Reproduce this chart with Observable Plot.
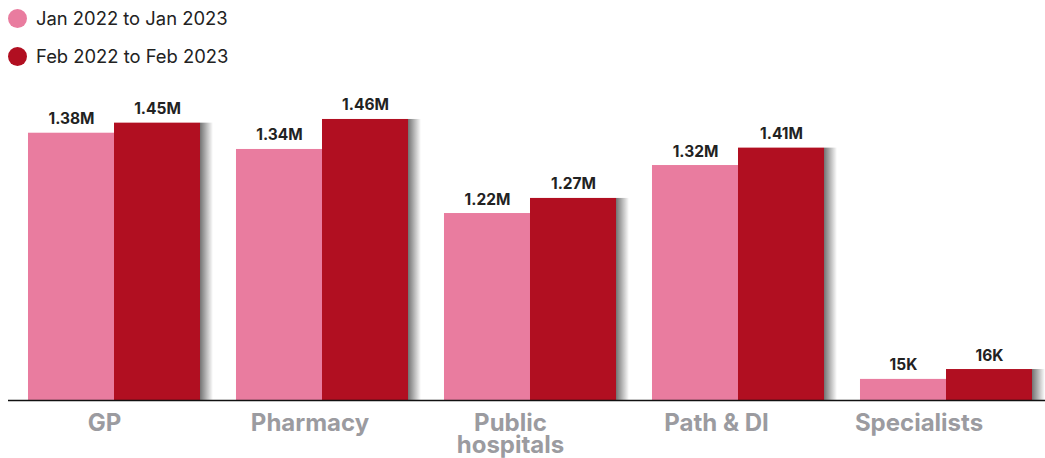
<!DOCTYPE html>
<html>
<head>
<meta charset="utf-8">
<script src="https://cdn.jsdelivr.net/npm/d3@7"></script>
<script src="https://cdn.jsdelivr.net/npm/@observablehq/plot@0.6"></script>
<style>
  html, body { margin: 0; padding: 0; background: #fff; overflow: hidden; }
  body { width: 1045px; height: 458px; font-family: "Inter", "Inter Variable", Roboto, sans-serif; }
  #legend { position: relative; height: 80px; }
  .item { position: absolute; left: 8px; display: flex; align-items: center; font-size: 18.4px; color: #222; }
  .dot { width: 19px; height: 19px; border-radius: 50%; margin-right: 9px; }
  #chart svg { display: block; }
</style>
</head>
<body>
<div id="legend"></div>
<div id="chart"></div>
<script>
// Categories and series
const categories = ["GP", "Pharmacy", "Public hospitals", "Path & DI", "Specialists"];
const categoryLines = ["GP", "Pharmacy", "Public\nhospitals", "Path & DI", "Specialists"];
const seriesNames = ["Jan 2022 to Jan 2023", "Feb 2022 to Feb 2023"];
const seriesColors = ["#E97C9F", "#B10F21"];
// Value labels as printed
const janLabels = ["1.38M", "1.34M", "1.22M", "1.32M", "15K"];
const febLabels = ["1.45M", "1.46M", "1.27M", "1.41M", "16K"];
// Bar lengths as drawn in the picture (the original does not draw to a common scale)
const janBar = [1.381, 1.297, 0.966, 1.214, 0.109];
const febBar = [1.433, 1.452, 1.044, 1.304, 0.160];

const jan = categories.map((c, i) => ({cat: c, v: janBar[i], label: janLabels[i]}));
const feb = categories.map((c, i) => ({cat: c, v: febBar[i], label: febLabels[i]}));
const cats = categories.map((c, i) => ({cat: c, text: categoryLines[i]}));

// legend
const legend = document.getElementById("legend");
seriesNames.forEach((name, i) => {
  const item = document.createElement("div");
  item.className = "item";
  item.style.top = (i === 0 ? 7 : 45) + "px";
  const dot = document.createElement("span");
  dot.className = "dot";
  dot.style.background = seriesColors[i];
  const t = document.createElement("span");
  t.textContent = name;
  item.appendChild(dot); item.appendChild(t);
  legend.appendChild(item);
});

const W = 1045, ML = 8, MR = 0;
const pIn = 0.173, pOut = 0.0793;
const step = (W - ML - MR) / (categories.length - pIn + 2 * pOut);
const bw = step * (1 - pIn);
const half = bw / 2;
const shadowW = 13;
// horizontal nudges of the category labels (style, in px)
const labelShift = [-10, -12.5, -20, -22, -27.5];
const FONT = "'Inter', 'Inter Variable', Roboto, sans-serif";

const chart = Plot.plot({
  width: W,
  height: 378,
  marginLeft: ML,
  marginRight: MR,
  marginTop: 20,
  marginBottom: 58,
  style: {fontFamily: FONT, background: "transparent"},
  x: {type: "band", domain: categories, paddingInner: pIn, paddingOuter: pOut, align: 0.606, round: false, axis: null},
  y: {domain: [0, 1.55], axis: null},
  marks: [
    Plot.barY(feb, {x: "cat", y: "v", insetLeft: bw - shadowW, dx: shadowW, fill: "url(#shadowGrad)", ariaLabel: "shadow"}),
    Plot.barY(jan, {x: "cat", y: "v", insetRight: half, fill: seriesColors[0]}),
    Plot.barY(feb, {x: "cat", y: "v", insetLeft: half, fill: seriesColors[1]}),
    Plot.text(jan, {x: "cat", y: "v", text: "label", dx: -half / 2, dy: -9, lineAnchor: "bottom", fontSize: 15.5, fontWeight: 700, fill: "#222"}),
    Plot.text(feb, {x: "cat", y: "v", text: "label", dx: half / 2, dy: -9, lineAnchor: "bottom", fontSize: 15.5, fontWeight: 700, fill: "#222"}),
    Plot.ruleY([0], {stroke: "#111", strokeWidth: 1.3}),
    ...cats.map((c, i) => Plot.text([c], {x: "cat", frameAnchor: "bottom", text: "text", lineAnchor: "top", dx: labelShift[i], dy: 14, lineHeight: 0.95, fontSize: 24, fontWeight: 700, fill: "#9B9BA0"}))
  ]
});

chart.insertAdjacentHTML("afterbegin",
  '<defs><linearGradient id="shadowGrad" x1="0" y1="0" x2="1" y2="0">' +
  '<stop offset="0" stop-color="#000" stop-opacity="0.55"/>' +
  '<stop offset="1" stop-color="#000" stop-opacity="0"/>' +
  '</linearGradient></defs>');
const sh = chart.querySelector('g[aria-label="shadow"]');
if (sh) {
  sh.style.filter = "blur(1.5px)";
  sh.querySelectorAll("rect").forEach(r => { r.style.clipPath = "polygon(0 0, 100% 0, 0 100%)"; });
}
document.getElementById("chart").appendChild(chart);
</script>
</body>
</html>
